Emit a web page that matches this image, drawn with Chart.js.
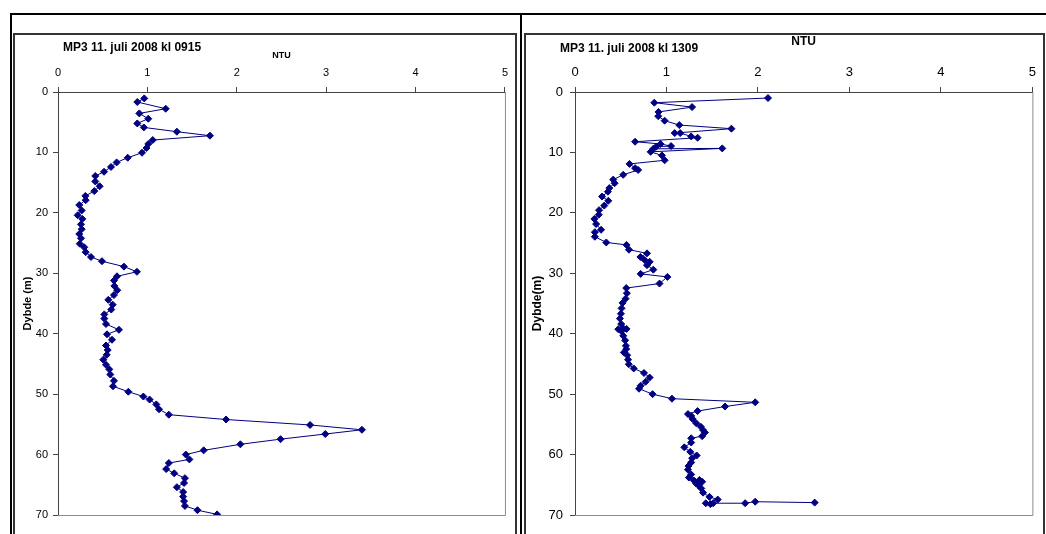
<!DOCTYPE html>
<html>
<head>
<meta charset="utf-8">
<script src="https://cdn.jsdelivr.net/npm/chart.js@4/dist/chart.umd.min.js"></script>
<style>
  body { margin: 0; background: #fff; font-family: "Liberation Sans", Arial, sans-serif; }
  #page { position: relative; width: 1046px; height: 534px; overflow: hidden; background: #fff; }
  .rule { position: absolute; background: #000; }
  .box { position: absolute; border: 2px solid #333; border-bottom: none; box-sizing: border-box; }
  .title { position: absolute; font-weight: bold; font-size: 12px; color: #000; white-space: nowrap; }
  canvas { position: absolute; }
</style>
</head>
<body>
<div id="page">
  <div class="rule" style="left:10px;top:13px;width:1036px;height:2px"></div>
  <div class="rule" style="left:10px;top:13px;width:2px;height:521px"></div>
  <div class="rule" style="left:520px;top:13px;width:2px;height:521px"></div>
  <div class="box" style="left:13px;top:33px;width:504px;height:501px"></div>
  <div class="box" style="left:524px;top:33px;width:521px;height:501px"></div>
  <canvas id="left" width="500" height="499" style="left:15px;top:35px"></canvas>
  <canvas id="right" width="517" height="499" style="left:526px;top:35px"></canvas>
  <div class="title" style="left:63px;top:40px">MP3 11. juli 2008 kl 0915</div>
  <div class="title" style="left:560px;top:41px">MP3 11. juli 2008 kl 1309</div>
</div>
<script>
// turbidity profile, 11 July 2008, 09:15
const ntu0915 = [0.965, 0.887, 1.205, 0.91, 1.01, 0.887, 0.96, 1.33, 1.70, 1.06,
  1.01, 0.99, 0.94, 0.78, 0.656, 0.593, 0.515, 0.417, 0.417, 0.466,
  0.406, 0.306, 0.31, 0.238, 0.265, 0.22, 0.272, 0.257, 0.265, 0.238,
  0.257, 0.243, 0.294, 0.31, 0.369, 0.492, 0.738, 0.883, 0.66, 0.626,
  0.63, 0.663, 0.626, 0.563, 0.612, 0.596, 0.518, 0.518, 0.537, 0.682,
  0.548, 0.604, 0.537, 0.556, 0.545, 0.507, 0.537, 0.574, 0.585, 0.626,
  0.615, 0.787, 0.955, 1.025, 1.10, 1.13, 1.24, 1.88, 2.82, 3.40,
  2.99, 2.49, 2.04, 1.63, 1.43, 1.47, 1.24, 1.21, 1.30, 1.42,
  1.41, 1.33, 1.40, 1.40, 1.41, 1.42, 1.56, 1.78];
const depth0915 = [1.06, 1.66, 2.77, 3.54, 4.42, 5.2, 5.86, 6.57, 7.23, 7.95,
  8.6, 9.27, 10.05, 10.88, 11.65, 12.4, 13.2, 13.9, 14.8, 15.6,
  16.4, 17.2, 17.9, 18.7, 19.6, 20.4, 21.0, 21.9, 22.7, 23.5,
  24.2, 25.1, 25.7, 26.5, 27.3, 28.0, 28.9, 29.75, 30.5, 31.2,
  32.1, 32.8, 33.6, 34.4, 35.2, 36.0, 36.8, 37.5, 38.4, 39.35,
  40.1, 41.0, 41.95, 42.7, 43.5, 44.3, 45.15, 45.9, 46.75, 47.8,
  48.7, 49.6, 50.4, 50.9, 51.7, 52.5, 53.4, 54.2, 55.1, 55.9,
  56.6, 57.45, 58.3, 59.3, 60.0, 60.8, 61.4, 62.4, 63.1, 63.9,
  64.7, 65.4, 66.2, 66.95, 67.7, 68.5, 69.2, 69.9];

// turbidity profile, 11 July 2008, 13:09
const ntu1309 = [2.11, 0.867, 1.28, 0.913, 0.91, 0.98, 1.14, 1.71, 1.09, 1.15,
  1.27, 1.34, 0.657, 0.935, 1.05, 0.888, 0.856, 1.61, 0.827, 0.95,
  0.98, 0.596, 0.657, 0.69, 0.527, 0.418, 0.433, 0.375, 0.36, 0.296,
  0.364, 0.32, 0.263, 0.26, 0.212, 0.231, 0.285, 0.217, 0.217, 0.342,
  0.563, 0.59, 0.787, 0.715, 0.762, 0.816, 0.787, 0.856, 0.718, 1.01,
  0.924, 0.56, 0.567, 0.553, 0.52, 0.509, 0.502, 0.491, 0.505, 0.527,
  0.473, 0.563, 0.509, 0.527, 0.548, 0.556, 0.56, 0.534, 0.57, 0.58,
  0.588, 0.642, 0.754, 0.816, 0.772, 0.718, 0.70, 0.848, 1.06, 1.97,
  1.64, 1.34, 1.235, 1.27, 1.285, 1.325, 1.376, 1.40, 1.42, 1.39,
  1.27, 1.27, 1.195, 1.26, 1.33, 1.28, 1.27, 1.24, 1.235, 1.27,
  1.245, 1.30, 1.36, 1.39, 1.325, 1.35, 1.38, 1.40, 1.47, 1.56,
  1.43, 1.48, 1.51, 1.86, 1.97, 2.62];
const depth1309 = [1.0, 1.77, 2.5, 3.3, 4.0, 4.75, 5.47, 6.07, 6.8, 6.8,
  7.35, 7.57, 8.23, 8.6, 8.95, 9.05, 9.4, 9.33, 9.9, 10.5,
  11.3, 11.9, 12.6, 12.9, 13.7, 14.5, 15.1, 15.9, 16.5, 17.3,
  18.0, 18.8, 19.55, 20.3, 21.0, 21.85, 22.8, 23.2, 23.95, 24.9,
  25.3, 26.1, 26.7, 27.3, 27.8, 28.1, 28.65, 29.4, 30.1, 30.6,
  31.7, 32.45, 33.3, 34.2, 34.9, 35.8, 36.7, 37.5, 38.4, 39.1,
  39.25, 39.2, 39.6, 40.35, 41.1, 42.0, 42.55, 43.1, 43.55, 44.3,
  45.05, 45.75, 46.5, 47.25, 47.95, 48.6, 49.1, 50.0, 50.75, 51.35,
  52.05, 52.8, 53.3, 53.6, 54.1, 54.8, 55.4, 55.95, 56.35, 56.95,
  57.3, 58.0, 58.8, 59.55, 60.15, 60.6, 61.3, 61.9, 62.5, 63.3,
  63.8, 64.3, 64.2, 64.5, 64.8, 65.1, 65.6, 66.3, 67.0, 67.45,
  68.05, 68.2, 68.05, 68.05, 67.8, 67.95];

const NAVY = "#000080";
const AXIS = "#444";

// gray frame on the right and bottom of the plot area
const plotFrame = {
  id: "plotFrame",
  beforeDatasetsDraw(chart) {
    const { ctx, chartArea: a } = chart;
    ctx.save();
    ctx.strokeStyle = "#8c8c8c";
    ctx.lineWidth = 1;
    ctx.beginPath();
    ctx.moveTo(a.right + 0.5, a.top);
    ctx.lineTo(a.right + 0.5, a.bottom + 0.5);
    ctx.lineTo(a.left, a.bottom + 0.5);
    ctx.stroke();
    ctx.restore();
  }
};

function profile(id, ntu, depth, o) {
  const pts = ntu.map((x, i) => ({ x, y: depth[i] }));
  return new Chart(document.getElementById(id), {
    type: "scatter",
    data: {
      datasets: [{
        data: pts,
        showLine: true,
        borderColor: NAVY,
        borderWidth: 1,
        backgroundColor: NAVY,
        pointStyle: "rectRot",
        pointRadius: 3.5,
        pointBorderWidth: 1,
        pointBorderColor: NAVY,
        tension: 0
      }]
    },
    options: {
      responsive: false,
      animation: false,
      events: [],
      layout: { padding: { left: 0, top: 0, right: o.padRight, bottom: 19 } },
      plugins: { legend: { display: false }, tooltip: { enabled: false } },
      scales: {
        x: {
          type: "linear", position: "top", min: 0, max: 5,
          ticks: { stepSize: 1, color: "#000", padding: o.xTickPad, font: { family: "Liberation Sans", size: o.tickSize } },
          grid: { drawOnChartArea: false, drawTicks: true, tickLength: 5, color: AXIS },
          border: { color: AXIS, width: 1 },
          title: { display: true, text: "NTU", color: "#000", padding: { top: o.ntuPad, bottom: 0 },
            font: { family: "Liberation Sans", weight: "bold", size: o.ntuSize } },
          afterFit(s) { s.height = 57; }
        },
        y: {
          type: "linear", reverse: true, min: 0, max: 70,
          ticks: { stepSize: 10, color: "#000", padding: o.yTickPad, font: { family: "Liberation Sans", size: o.tickSize } },
          grid: { drawOnChartArea: false, drawTicks: true, tickLength: 5, color: AXIS },
          border: { color: AXIS, width: 1 },
          title: { display: true, text: o.yTitle, color: "#000", padding: { top: o.yTitlePad, bottom: 0 },
            font: { family: "Liberation Sans", weight: "bold", size: o.yTitleSize } },
          afterFit(s) { s.width = o.yWidth; }
        }
      }
    },
    plugins: [plotFrame]
  });
}

profile("left", ntu0915, depth0915, {
  padRight: 10, yWidth: 43, tickSize: 11, xTickPad: 7, yTickPad: 5,
  ntuSize: 9, ntuPad: 15, yTitle: "Dybde (m)", yTitleSize: 11, yTitlePad: 6
});
profile("right", ntu1309, depth1309, {
  padRight: 7, yWidth: 49, tickSize: 13, xTickPad: 7, yTickPad: 7,
  ntuSize: 12, ntuPad: -1, yTitle: "Dybde(m)", yTitleSize: 12, yTitlePad: 4
});
</script>
</body>
</html>
